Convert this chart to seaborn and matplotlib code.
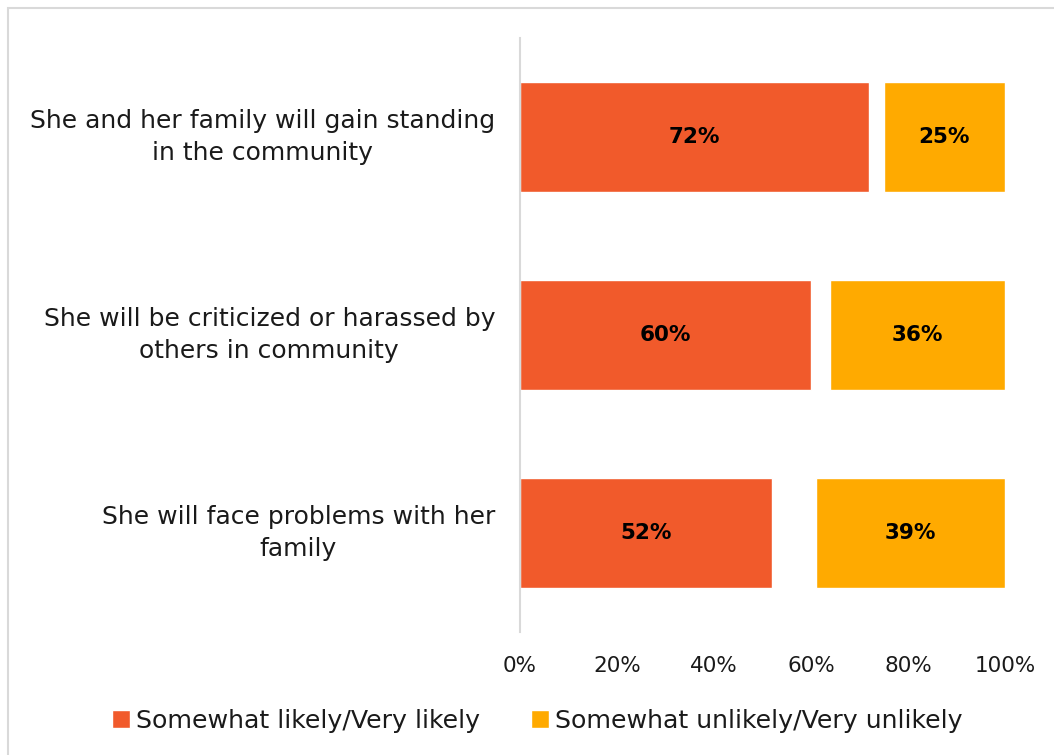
import matplotlib
matplotlib.use("Agg")
import matplotlib.pyplot as plt
from matplotlib.patches import Rectangle
import seaborn as sns
import pandas as pd

categories = [
    "She and her family will gain standing\nin the community",
    "She will be criticized or harassed by\nothers in community",
    "She will face problems with her\nfamily",
]
likely = [72, 60, 52]
unlikely = [25, 36, 39]
series_names = ["Somewhat likely/Very likely", "Somewhat unlikely/Very unlikely"]
tick_values = [0, 20, 40, 60, 80, 100]
tick_labels = ["0%", "20%", "40%", "60%", "80%", "100%"]

colors = ["#F15A2B", "#FFAA00"]

sns.set_theme(style="white")
plt.rcParams["font.family"] = ["DejaVu Sans"]

df = pd.DataFrame({"category": categories, "likely": likely, "unlikely": unlikely})
df["start"] = 100 - df["unlikely"]

fig = plt.figure(figsize=(10.54, 7.55), dpi=100)
ax = fig.add_axes([520 / 1054, 1 - 632 / 755, 485 / 1054, 594 / 755])

sns.barplot(data=df, x="likely", y="category", orient="h", color=colors[0],
            width=0.56, saturation=1, ax=ax, label=series_names[0])
sns.barplot(data=df, x="unlikely", y="category", orient="h", color=colors[1],
            width=0.56, saturation=1, ax=ax, label=series_names[1],
            left=df["start"].tolist())

# value labels inside each bar
for i, (l, u, s) in enumerate(zip(likely, unlikely, df["start"])):
    ax.text(l / 2, i, f"{l}%", ha="center", va="center", fontsize=15.5,
            fontweight="bold", color="black")
    ax.text(s + u / 2, i, f"{u}%", ha="center", va="center", fontsize=15.5,
            fontweight="bold", color="black")

ax.set_xlim(0, 100)
ax.set_ylim(2.5, -0.5)
ax.set_xticks(tick_values)
ax.set_xticklabels(tick_labels, fontsize=15.5, color="#1a1a1a")
ax.tick_params(axis="x", length=0, pad=17)
ax.tick_params(axis="y", length=0, pad=18)
for lab in ax.get_yticklabels():
    lab.set_fontsize(18)
    lab.set_color("#1a1a1a")
    lab.set_multialignment("center")
    lab.set_linespacing(1.45)
    lab.set_verticalalignment("center")
ax.set_xlabel("")
ax.set_ylabel("")
for side in ["top", "right", "bottom"]:
    ax.spines[side].set_visible(False)
ax.spines["left"].set_color("#D9D9D9")
ax.spines["left"].set_linewidth(1.5)

leg = ax.legend(loc="center", bbox_to_anchor=(0.51, 34 / 755), bbox_transform=fig.transFigure,
                ncol=2, frameon=False, fontsize=18.2, handlelength=0.7, handleheight=0.7,
                handletextpad=0.25, columnspacing=2.0, labelcolor="#1a1a1a")

# outer chart frame
fig.patches.append(Rectangle((8 / 1054, -0.1), 1.2, 1.1 - 8 / 755, transform=fig.transFigure,
                             fill=False, edgecolor="#D9D9D9", linewidth=1.5))

fig.savefig("out.png", dpi=100)
